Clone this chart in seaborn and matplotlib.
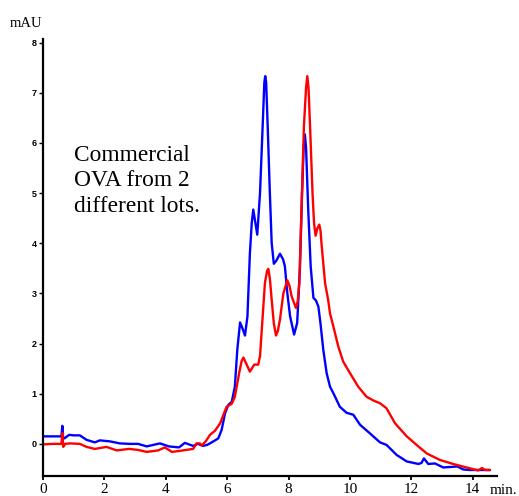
import numpy as np
import pandas as pd
import matplotlib
matplotlib.use("Agg")
import matplotlib.pyplot as plt
import seaborn as sns

# ---- data (retention time in min, absorbance in mAU) ----
blue_t = [0.0, 0.3, 0.6, 0.63, 0.66, 0.72, 0.85, 1.0, 1.2, 1.42, 1.69, 1.85, 2.18, 2.5,
          2.83, 3.1, 3.38, 3.81, 4.1, 4.43, 4.62, 4.89, 5.05, 5.21, 5.35, 5.55, 5.71,
          5.82, 5.93, 6.04, 6.15, 6.25, 6.33, 6.42, 6.5, 6.58, 6.66, 6.74, 6.8, 6.85,
          6.92, 6.98, 7.07, 7.16, 7.21, 7.24, 7.27, 7.32, 7.39, 7.45, 7.52, 7.6, 7.72,
          7.82, 7.88, 7.96, 8.05, 8.18, 8.28, 8.37, 8.44, 8.49, 8.53, 8.57, 8.64, 8.72,
          8.81, 8.89, 8.97, 9.04, 9.13, 9.24, 9.35, 9.46, 9.67, 9.89, 10.11, 10.33,
          10.65, 10.98, 11.19, 11.52, 11.85, 12.23, 12.33, 12.41, 12.5, 12.55, 12.77,
          13.04, 13.5, 13.69, 13.9, 14.3, 14.56]
blue_v = [0.15, 0.15, 0.15, 0.36, 0.10, 0.12, 0.18, 0.17, 0.17, 0.08, 0.03, 0.07, 0.05, 0.01,
          0.0, 0.0, -0.05, 0.01, -0.05, -0.07, 0.02, -0.04, 0.0, -0.04, -0.02, 0.05, 0.11,
          0.28, 0.61, 0.78, 0.84, 1.14, 1.88, 2.42, 2.3, 2.16, 2.54, 3.8, 4.4, 4.67,
          4.4, 4.17, 5.0, 6.4, 7.2, 7.33, 7.2, 6.33, 5.0, 4.0, 3.59, 3.65, 3.79,
          3.68, 3.54, 3.0, 2.54, 2.18, 2.41, 3.5, 5.0, 5.9, 6.17, 5.9, 4.67, 3.54,
          2.91, 2.86, 2.74, 2.4, 1.88, 1.41, 1.14, 1.01, 0.74, 0.62, 0.58, 0.38,
          0.21, 0.03, -0.02, -0.22, -0.35, -0.40, -0.38, -0.29, -0.36, -0.40, -0.39,
          -0.47, -0.45, -0.51, -0.52, -0.52, -0.52]

red_t = [0.0, 0.3, 0.6, 0.63, 0.66, 0.72, 0.88, 1.2, 1.42, 1.69, 2.07, 2.4, 2.8, 3.1,
         3.38, 3.75, 3.97, 4.2, 4.56, 4.89, 5.0, 5.11, 5.18, 5.3, 5.44, 5.6, 5.77, 5.98,
         6.15, 6.25, 6.39, 6.47, 6.53, 6.62, 6.74, 6.88, 7.01, 7.07, 7.12, 7.23, 7.3,
         7.34, 7.39, 7.45, 7.52, 7.59, 7.65, 7.72, 7.83, 7.96, 8.03, 8.10, 8.24, 8.3,
         8.35, 8.43, 8.50, 8.57, 8.61, 8.65, 8.70, 8.78, 8.83, 8.88, 8.94, 9.0, 9.04,
         9.08, 9.19, 9.29, 9.35, 9.46, 9.62, 9.78, 10.0, 10.27, 10.54, 10.78, 10.98,
         11.19, 11.47, 11.85, 12.17, 12.5, 12.93, 13.36, 13.8, 14.18, 14.3, 14.4, 14.56]
red_v = [-0.01, 0.0, 0.0, 0.22, -0.06, 0.0, 0.01, 0.0, -0.06, -0.1, -0.06, -0.13, -0.1, -0.12,
         -0.16, -0.13, -0.07, -0.16, -0.13, -0.1, 0.01, 0.01, -0.03, 0.05, 0.18, 0.26, 0.41, 0.74,
         0.80, 0.94, 1.41, 1.65, 1.72, 1.6, 1.44, 1.58, 1.58, 1.75, 2.21, 3.21, 3.45,
         3.49, 3.3, 2.87, 2.4, 2.16, 2.25, 2.48, 3.0, 3.26, 3.15, 2.94, 2.71, 2.85,
         3.21, 4.87, 6.33, 7.1, 7.33, 7.1, 6.33, 5.0, 4.4, 4.15, 4.3, 4.37, 4.25,
         3.94, 3.2, 2.87, 2.6, 2.34, 1.94, 1.64, 1.41, 1.14, 0.94, 0.86, 0.81,
         0.71, 0.41, 0.15, -0.02, -0.19, -0.32, -0.40, -0.47, -0.53, -0.48, -0.52, -0.52]

x_ticks = list(range(0, 15, 2))
y_ticks = list(range(0, 9))
note_lines = ["Commercial", "OVA from 2", "different lots."]

df = pd.concat([
    pd.DataFrame({"t": blue_t, "v": blue_v, "lot": "lot A"}),
    pd.DataFrame({"t": red_t, "v": red_v, "lot": "lot B"}),
])

sns.set_style("ticks")
plt.rcParams["font.family"] = ["Liberation Serif", "DejaVu Serif"]
plt.rcParams["text.color"] = "black"

W, H = 519, 496
fig = plt.figure(figsize=(W / 100, H / 100), dpi=100)
ax = fig.add_axes([43 / W, 1 - 476 / H, (497 - 43) / W, (476 - 39) / H])

sns.lineplot(data=df, x="t", y="v", hue="lot", palette={"lot A": "#0000ff", "lot B": "#ff0000"},
             estimator=None, sort=False, linewidth=1.7, legend=False, ax=ax)

ax.set_xlim(0, 14.79)
ax.set_ylim(-0.64, 8.07)
ax.set_xticks(x_ticks)
ax.set_yticks(y_ticks)
ax.set_xlabel("")
ax.set_ylabel("")
for s in ["top", "right"]:
    ax.spines[s].set_visible(False)
for s in ["left", "bottom"]:
    ax.spines[s].set_linewidth(1.6)
    ax.spines[s].set_color("black")
ax.tick_params(axis="x", direction="out", length=3, width=1.3, labelsize=11, pad=2, colors="black")
ax.tick_params(axis="y", direction="out", length=3, width=1.0, labelsize=6.5, pad=1.5, colors="black")
for lab in ax.get_yticklabels():
    lab.set_family(["Liberation Sans", "DejaVu Sans"])
    lab.set_fontweight("bold")

fig.text(10 / W, 1 - 27 / H, "mAU", fontsize=10.5, ha="left", va="baseline", color="black")
fig.text(490 / W, 1 - 494 / H, "min.", fontsize=11, ha="left", va="baseline", color="black")
for i, line in enumerate(note_lines):
    fig.text(74 / W, 1 - (161 + 25.5 * i) / H, line, fontsize=16.8, ha="left",
             va="baseline", color="black")

fig.savefig("out.png", dpi=100)
